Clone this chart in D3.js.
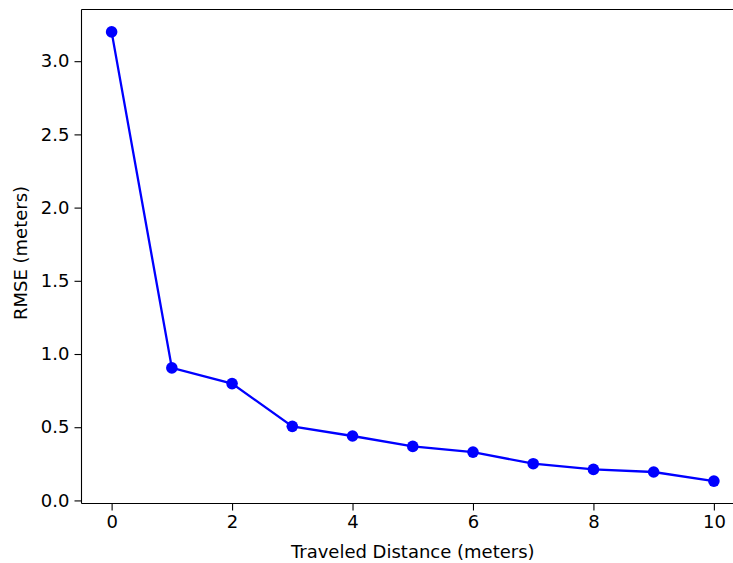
<html>
<head>
  <title>RMSE vs Traveled Distance</title>
  <script src="https://d3js.org/d3.v7.min.js"></script>
  <style>
    body { margin: 0; background: #fff; overflow: hidden; }
    svg { overflow: hidden; }
    text { font-family: "DejaVu Sans", sans-serif; }
  </style>
</head>
<body>
  <div id="chart"></div>
  <script>
    // data
    const distance = [0, 1, 2, 3, 4, 5, 6, 7, 8, 9, 10];
    const rmse = [3.20, 0.905, 0.798, 0.506, 0.44, 0.369, 0.33, 0.251, 0.212, 0.194, 0.132];
    const xTicks = [0, 2, 4, 6, 8, 10];
    const yTicks = [0.0, 0.5, 1.0, 1.5, 2.0, 2.5, 3.0];

    const width = 733;
    const height = 563;
    // plot box (right edge sits just outside the picture, like the reference)
    const plotLeft = 81.5, plotTop = 9.5, plotRight = 744, plotBottom = 503.5;
    const fontSize = "18px";

    const svg = d3.select("#chart")
      .append("svg")
      .attr("width", width)
      .attr("height", height)
      .style("display", "block");

    const x = d3.scaleLinear().domain([-0.5, 10.5]).range([plotLeft, plotRight]);
    const y = d3.scaleLinear().domain([-0.021, 3.353]).range([plotBottom, plotTop]);

    // axes
    const xAxis = d3.axisBottom(x).tickValues(xTicks).tickFormat(d3.format("d"))
      .tickSize(7).tickPadding(5);
    const yAxis = d3.axisLeft(y).tickValues(yTicks).tickFormat(d3.format(".1f"))
      .tickSize(7).tickPadding(5);

    const gx = svg.append("g")
      .attr("transform", `translate(0,${plotBottom})`)
      .call(xAxis);
    const gy = svg.append("g")
      .attr("transform", `translate(${plotLeft},0)`)
      .call(yAxis);

    [gx, gy].forEach(g => {
      g.select(".domain").remove();
      g.selectAll(".tick line").attr("stroke", "#000").attr("stroke-width", 1.1);
      g.selectAll(".tick text").attr("fill", "#000").style("font-size", fontSize);
    });

    // spines: left, top, bottom (right one falls outside the picture)
    const spines = [
      [plotLeft, plotTop, plotLeft, plotBottom],
      [plotLeft, plotTop, width + 5, plotTop],
      [plotLeft, plotBottom, width + 5, plotBottom]
    ];
    svg.selectAll("line.spine")
      .data(spines)
      .join("line")
      .attr("class", "spine")
      .attr("x1", d => d[0]).attr("y1", d => d[1])
      .attr("x2", d => d[2]).attr("y2", d => d[3])
      .attr("stroke", "#000")
      .attr("stroke-width", 1.1);

    // line + markers
    const pts = distance.map((d, i) => ({ d: d, v: rmse[i] }));
    const line = d3.line().x(p => x(p.d)).y(p => y(p.v));

    svg.append("path")
      .datum(pts)
      .attr("d", line)
      .attr("fill", "none")
      .attr("stroke", "#0000ff")
      .attr("stroke-width", 2.3);

    svg.selectAll("circle")
      .data(pts)
      .join("circle")
      .attr("cx", p => x(p.d))
      .attr("cy", p => y(p.v))
      .attr("r", 5.8)
      .attr("fill", "#0000ff");

    // axis labels
    svg.append("text")
      .attr("x", (plotLeft + plotRight) / 2)
      .attr("y", 558)
      .attr("text-anchor", "middle")
      .style("font-size", fontSize)
      .text("Traveled Distance (meters)");

    svg.append("text")
      .attr("transform", `translate(27,253) rotate(-90)`)
      .attr("text-anchor", "middle")
      .style("font-size", fontSize)
      .text("RMSE (meters)");
  </script>
</body>
</html>
